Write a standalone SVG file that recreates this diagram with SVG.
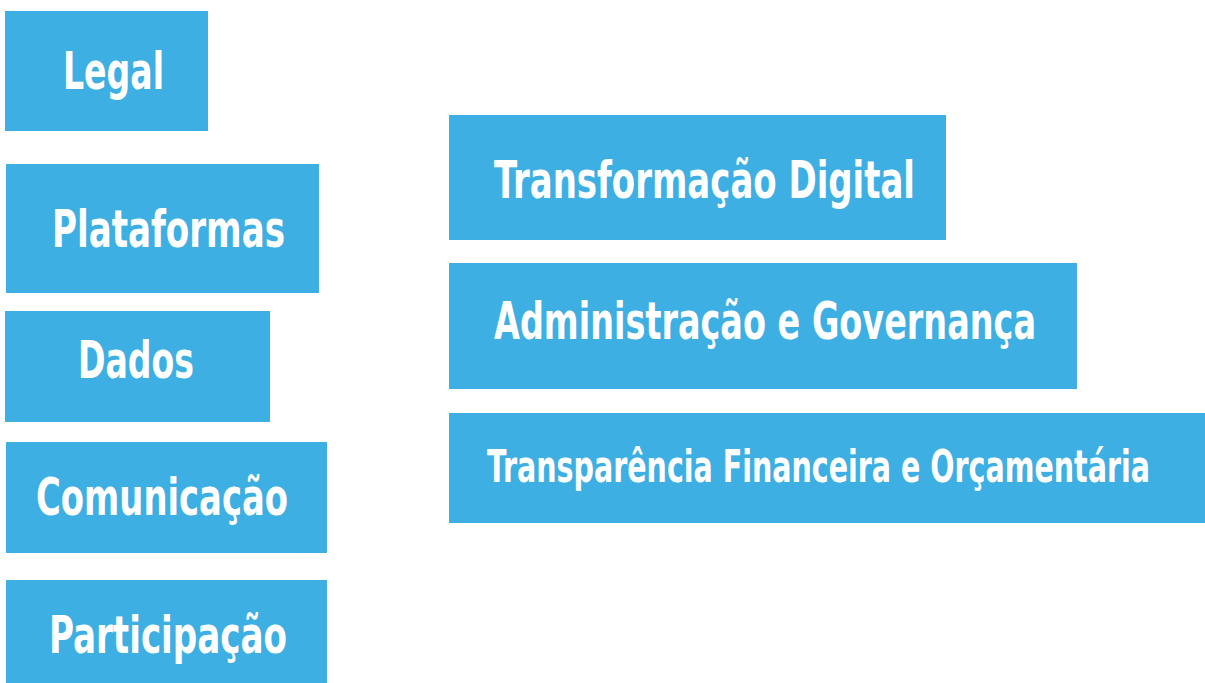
<svg xmlns="http://www.w3.org/2000/svg" width="1205" height="683" viewBox="0 0 1205 683">
<style>
.box{fill:#3eafe3}
.lbl{fill:#ffffff;font-family:"DejaVu Sans Condensed","DejaVu Sans",sans-serif;font-stretch:condensed;font-weight:bold;font-size:37px}
.sm{font-size:32px}
</style>
<rect width="1205" height="683" fill="#ffffff"/>
<g id="legal"><rect class="box" x="5" y="11" width="203" height="120"/><text class="lbl" transform="translate(63,89) scale(1,1.38)" textLength="101" lengthAdjust="spacingAndGlyphs">Legal</text></g>
<g id="plataformas"><rect class="box" x="6" y="164" width="313" height="129"/><text class="lbl" transform="translate(52,247) scale(1,1.38)" textLength="233" lengthAdjust="spacingAndGlyphs">Plataformas</text></g>
<g id="dados"><rect class="box" x="5" y="311" width="265" height="111"/><text class="lbl" transform="translate(78,378) scale(1,1.38)" textLength="116" lengthAdjust="spacingAndGlyphs">Dados</text></g>
<g id="comunicacao"><rect class="box" x="6" y="442" width="321" height="111"/><text class="lbl" transform="translate(36,515) scale(1,1.38)" textLength="252" lengthAdjust="spacingAndGlyphs">Comunicação</text></g>
<g id="participacao"><rect class="box" x="6" y="580" width="321" height="103"/><text class="lbl" transform="translate(49,653) scale(1,1.38)" textLength="238" lengthAdjust="spacingAndGlyphs">Participação</text></g>
<g id="transformacao"><rect class="box" x="449" y="115" width="497" height="125"/><text class="lbl" transform="translate(494,198) scale(1,1.38)" textLength="421" lengthAdjust="spacingAndGlyphs">Transformação Digital</text></g>
<g id="administracao"><rect class="box" x="449" y="263" width="628" height="126"/><text class="lbl" transform="translate(494,339) scale(1,1.38)" textLength="542" lengthAdjust="spacingAndGlyphs">Administração e Governança</text></g>
<g id="transparencia"><rect class="box" x="449" y="413" width="756" height="110"/><text class="lbl sm" transform="translate(487,482) scale(1,1.38)" textLength="663" lengthAdjust="spacingAndGlyphs">Transparência Financeira e Orçamentária</text></g>
<g id="connectors"></g>
</svg>
